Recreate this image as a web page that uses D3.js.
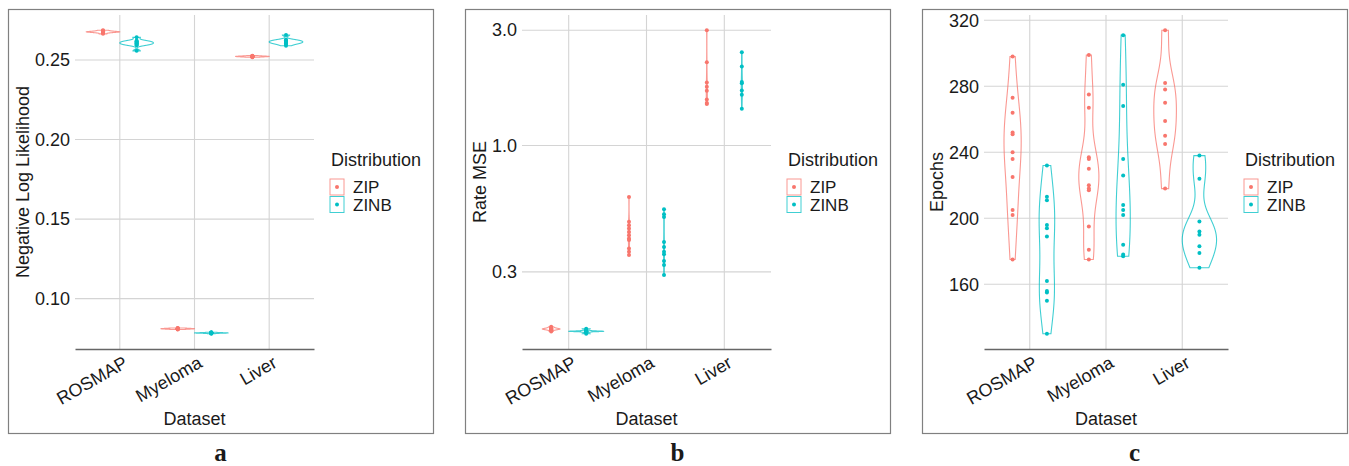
<!DOCTYPE html>
<html>
<head>
<meta charset="utf-8">
<script src="https://cdn.jsdelivr.net/npm/d3@7"></script>
<style>
  body { margin: 0; background: #fff; }
  svg text { font-family: 'Liberation Sans', Arial, sans-serif; fill: #1a1a1a; }
</style>
</head>
<body>
<svg id="chart" width="1349" height="466"></svg>
<script>
// categories and groups
const categories = ['ROSMAP', 'Myeloma', 'Liver'];
const distributions = ['ZIP', 'ZINB'];
const colors = ['#F8766D', '#00BFC4'];

// a: negative log likelihood (per run)
const nllZipRosmap = [0.2664, 0.2670, 0.2673, 0.2675, 0.2676, 0.2677, 0.2678, 0.2680, 0.2683, 0.2687];
const nllZinbRosmap = [0.2557, 0.2593, 0.2597, 0.2601, 0.2605, 0.2609, 0.2613, 0.2617, 0.2621, 0.2642];
const nllZipMyeloma = [0.0806, 0.0808, 0.0809, 0.0810, 0.0811, 0.0811, 0.0812, 0.0813, 0.0814, 0.0816];
const nllZinbMyeloma = [0.0779, 0.0782, 0.0783, 0.0784, 0.0784, 0.0785, 0.0785, 0.0786, 0.0787, 0.0789];
const nllZipLiver = [0.2517, 0.2519, 0.2520, 0.2521, 0.2522, 0.2522, 0.2523, 0.2524, 0.2525, 0.2527];
const nllZinbLiver = [0.2589, 0.2600, 0.2604, 0.2608, 0.2612, 0.2615, 0.2619, 0.2623, 0.2627, 0.2657];
const nllTicks = [0.10, 0.15, 0.20, 0.25];

// b: rate MSE (log axis)
const mseZipRosmap = [0.1700, 0.1720, 0.1730, 0.1735, 0.1739, 0.1742, 0.1746, 0.1752, 0.1762, 0.1776];
const mseZinbRosmap = [0.1662, 0.1688, 0.1697, 0.1700, 0.1702, 0.1703, 0.1705, 0.1708, 0.1716, 0.1745];
const mseZipMyeloma = [0.352, 0.363, 0.375, 0.406, 0.412, 0.425, 0.439, 0.453, 0.468, 0.483, 0.612];
const mseZinbMyeloma = [0.291, 0.320, 0.333, 0.355, 0.363, 0.380, 0.399, 0.506, 0.519, 0.545];
const mseZipLiver = [1.486, 1.50, 1.548, 1.686, 1.752, 1.824, 2.21, 3.0];
const mseZinbLiver = [1.42, 1.62, 1.69, 1.81, 1.83, 2.12, 2.43];
const mseTicks = [0.3, 1.0, 3.0];

// c: epochs
const epZipRosmap = [175, 202, 205, 225, 236, 240, 251, 252, 264, 273, 298];
const epZinbRosmap = [130, 150, 155, 156, 162, 189, 194, 196, 211, 213, 232];
const epZipMyeloma = [175, 181, 195, 217, 218, 220, 230, 236, 237, 267, 275, 299];
const epZinbMyeloma = [177, 178, 184, 202, 205, 208, 226, 236, 268, 281, 311];
const epZipLiver = [218, 245, 250, 259, 270, 278, 282, 314];
const epZinbLiver = [170, 179, 183, 190, 192, 198, 224, 238];
const epochTicks = [160, 200, 240, 280, 320];

let svg = d3.select('#chart');

let panels = [
  {
    left: 8, plotLeft: 67, letter: 'a', title: 'Negative Log Likelihood', log: false, scale: 'width',
    ticks: nllTicks, fmt: d3.format('.2f'),
    data: [[nllZipRosmap, nllZipMyeloma, nllZipLiver], [nllZinbRosmap, nllZinbMyeloma, nllZinbLiver]]
  },
  {
    left: 465, plotLeft: 57, letter: 'b', title: 'Rate MSE', log: true, scale: 'area',
    ticks: mseTicks, fmt: d3.format('.1f'),
    data: [[mseZipRosmap, mseZipMyeloma, mseZipLiver], [mseZinbRosmap, mseZinbMyeloma, mseZinbLiver]]
  },
  {
    left: 922, plotLeft: 62, letter: 'c', title: 'Epochs', log: false, scale: 'area',
    ticks: epochTicks, fmt: d3.format('d'),
    data: [[epZipRosmap, epZipMyeloma, epZipLiver], [epZinbRosmap, epZinbMyeloma, epZinbLiver]]
  }
];

// gaussian kde, bw.nrd0, trimmed to data range
let kde = function (vals) {
  let v = vals.slice().sort(d3.ascending), n = v.length;
  let sd = d3.deviation(v), iqr = d3.quantile(v, 0.75) - d3.quantile(v, 0.25);
  let lo = Math.min(sd, iqr / 1.34) || sd || 1;
  let bw = 0.9 * lo * Math.pow(n, -0.2);
  let [a, b] = d3.extent(v);
  return d3.range(512).map((i) => {
    let t = a + (b - a) * i / 511;
    let dens = d3.sum(v, (x) => Math.exp(-0.5 * ((t - x) / bw) ** 2)) / (n * bw * Math.sqrt(2 * Math.PI));
    return {t: t, dens: dens};
  });
};

let drawPanel = function (p) {
  let g = svg.append('g').attr('transform', 'translate(' + p.left + ',0)');
  let plotLeft = p.plotLeft, plotRight = 306, plotTop = 15, plotBottom = 349;

  g.append('rect')
    .attr('x', 0.5).attr('y', 9.5)
    .attr('width', 425).attr('height', 424)
    .attr('fill', 'none').attr('stroke', '#808080').attr('stroke-width', 1.2);

  let fwd = p.log ? Math.log10 : (v) => v;
  let inv = p.log ? (t) => Math.pow(10, t) : (t) => t;

  let all = p.data.flat(2).map(fwd);
  let [lo, hi] = d3.extent(all);
  let pad = (hi - lo) * 0.05;
  let yScale = (p.log ? d3.scaleLog() : d3.scaleLinear())
    .domain([inv(lo - pad), inv(hi + pad)])
    .range([plotBottom, plotTop]);

  let xScale = d3.scalePoint()
    .domain(categories)
    .range([plotLeft, plotRight])
    .padding(0.6);
  let step = xScale.step();

  // grid
  g.append('g').selectAll('line')
    .data(p.ticks)
    .enter()
    .append('line')
    .attr('x1', plotLeft).attr('x2', plotRight)
    .attr('y1', (d) => yScale(d)).attr('y2', (d) => yScale(d))
    .attr('stroke', '#d4d4d4').attr('stroke-width', 1.1);
  g.append('g').selectAll('line')
    .data(categories)
    .enter()
    .append('line')
    .attr('x1', (d) => xScale(d)).attr('x2', (d) => xScale(d))
    .attr('y1', plotTop).attr('y2', plotBottom)
    .attr('stroke', '#d4d4d4').attr('stroke-width', 1.1);

  // y axis
  let yAxis = g.append('g')
    .attr('transform', 'translate(' + plotLeft + ',0)')
    .call(d3.axisLeft(yScale).tickValues(p.ticks).tickFormat(p.fmt).tickSize(0).tickPadding(5));
  yAxis.select('.domain').remove();
  yAxis.selectAll('text').style('font-size', '18px').attr('fill', '#1a1a1a');

  // x axis
  let xAxis = g.append('g')
    .attr('transform', 'translate(0,' + plotBottom + ')')
    .call(d3.axisBottom(xScale).tickSize(0).tickSizeOuter(0));
  xAxis.select('.domain').attr('stroke', '#666').attr('stroke-width', 1.6);
  xAxis.selectAll('text')
    .style('font-size', '18px')
    .attr('fill', '#1a1a1a')
    .attr('text-anchor', 'end')
    .attr('x', 0).attr('y', 0).attr('dy', '0.72em')
    .attr('transform', 'translate(2,6) rotate(-30)');

  // violins
  let dens = p.data.map((row) => row.map((vals) => kde(vals.map(fwd))));
  let globalMax = d3.max(dens.flat(), (k) => d3.max(k, (d) => d.dens));
  let half = 0.225 * step;

  let violins = g.append('g').attr('class', 'violins');
  p.data.forEach((row, di) => {
    row.forEach((vals, ci) => {
      let k = dens[di][ci];
      let m = p.scale === 'area' ? globalMax : d3.max(k, (d) => d.dens);
      let cx = xScale(categories[ci]) + (di === 0 ? -half : half);
      let area = d3.area()
        .y((d) => yScale(inv(d.t)))
        .x0((d) => cx - d.dens / m * half)
        .x1((d) => cx + d.dens / m * half);
      violins.append('path')
        .attr('d', area(k))
        .attr('fill', 'none')
        .attr('stroke', colors[di])
        .attr('stroke-opacity', 0.75)
        .attr('stroke-width', 1.1);
      violins.append('g')
        .selectAll('circle')
        .data(vals)
        .enter()
        .append('circle')
        .attr('cx', cx)
        .attr('cy', (d) => yScale(d))
        .attr('r', 2)
        .attr('fill', colors[di]);
    });
  });

  // titles
  g.append('text')
    .attr('transform', 'translate(20.5,' + ((plotTop + plotBottom) / 2) + ') rotate(-90)')
    .attr('text-anchor', 'middle')
    .style('font-size', '18px')
    .text(p.title);
  g.append('text')
    .attr('x', (plotLeft + plotRight) / 2).attr('y', 425)
    .attr('text-anchor', 'middle')
    .style('font-size', '18px')
    .text('Dataset');

  // legend
  let legend = g.append('g').attr('transform', 'translate(' + (plotRight + 17) + ',0)');
  legend.append('text')
    .attr('x', 0).attr('y', 166)
    .style('font-size', '18px')
    .text('Distribution');
  let keys = legend.selectAll('.key')
    .data(distributions)
    .enter()
    .append('g')
    .attr('class', 'key')
    .attr('transform', (d, i) => 'translate(0,' + (179 + i * 17.5) + ')');
  keys.append('rect')
    .attr('x', -1).attr('y', 0)
    .attr('width', 14).attr('height', 16)
    .attr('fill', 'none')
    .attr('stroke', (d, i) => colors[i])
    .attr('stroke-opacity', 0.75);
  keys.append('circle')
    .attr('cx', 6).attr('cy', 8).attr('r', 2)
    .attr('fill', (d, i) => colors[i]);
  keys.append('text')
    .attr('x', 22).attr('y', 8).attr('dy', '0.36em')
    .style('font-size', '17px')
    .text((d) => d);

  // panel letter
  g.append('text')
    .attr('x', 212.5).attr('y', 461)
    .attr('text-anchor', 'middle')
    .style('font-family', "'Liberation Serif', 'Times New Roman', serif")
    .style('font-weight', 'bold')
    .style('font-size', '25px')
    .text(p.letter);
};

panels.forEach(drawPanel);
</script>
</body>
</html>
